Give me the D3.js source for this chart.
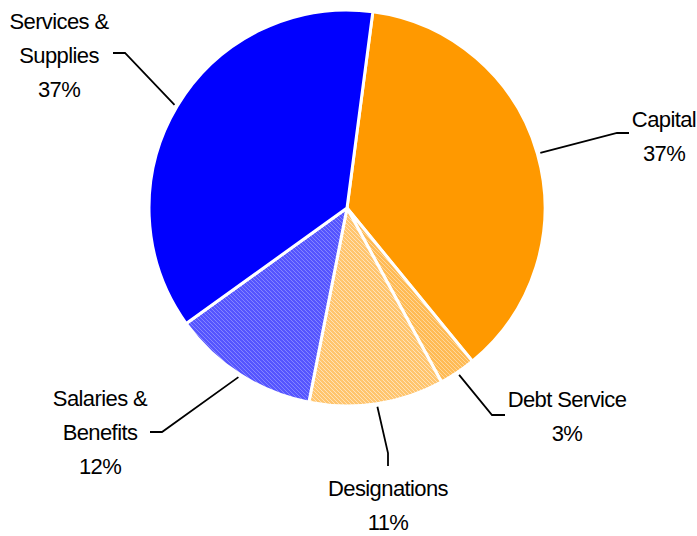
<!DOCTYPE html>
<html>
<head>
<meta charset="utf-8">
<script src="https://cdn.jsdelivr.net/npm/d3@7/dist/d3.min.js"></script>
<style>
  html, body { margin: 0; padding: 0; background: #ffffff; }
  svg { display: block; }
  text { font-family: "Liberation Sans", Arial, sans-serif; font-size: 22px; letter-spacing: -0.6px; fill: #000; }
</style>
</head>
<body>
<svg id="chart" width="697" height="536"></svg>
<script>
// Budget shares, clockwise from just past 12 o'clock
const categories = ["Capital", "Debt Service", "Designations", "Salaries & Benefits", "Services & Supplies"];
const labelLines = [["Capital"], ["Debt Service"], ["Designations"], ["Salaries &", "Benefits"], ["Services &", "Supplies"]];
const values = [37, 3, 11, 12, 37];

// Label placement: elbow of the leader, end of the leader, text centre and first baseline
const labelLayout = [
  { elbow: [617, 133], end: [629, 133], tx: 664, ty: 127 },
  { elbow: [492, 415], end: [505, 415], tx: 567, ty: 407 },
  { elbow: [388, 453], end: [388, 466], tx: 388, ty: 496 },
  { elbow: [162, 432], end: [150, 432], tx: 100, ty: 406 },
  { elbow: [125, 53],  end: [113, 53],  tx: 59,  ty: 29 }
];

const width = 697, height = 536;
const cx = 347, cy = 208, radius = 198;
const lineGap = 34;

const svg = d3.select("#chart");
const defs = svg.append("defs");

// Fine dither fills for the lighter slices
function dither(id, a, b) {
  const p = defs.append("pattern").attr("id", id)
    .attr("width", 4).attr("height", 4).attr("patternUnits", "userSpaceOnUse");
  p.append("rect").attr("width", 4).attr("height", 4).attr("fill", a);
  p.append("rect").attr("x", 0).attr("y", 0).attr("width", 1).attr("height", 1).attr("fill", b);
  p.append("rect").attr("x", 2).attr("y", 2).attr("width", 1).attr("height", 1).attr("fill", b);
  p.append("rect").attr("x", 1).attr("y", 1).attr("width", 1).attr("height", 1).attr("fill", b);
  p.append("rect").attr("x", 3).attr("y", 3).attr("width", 1).attr("height", 1).attr("fill", b);
}
dither("fillSal", "#5555ff", "#8585ff");
dither("fillDes", "#ffc56e", "#ffe2b8");
dither("fillDebt", "#ffbb55", "#ffd79a");

const fills = ["#ff9900", "url(#fillDebt)", "url(#fillDes)", "url(#fillSal)", "#0000ff"];

const start = 7.5 * Math.PI / 180;
const pie = d3.pie().sort(null).value(d => d).startAngle(start).endAngle(start + 2 * Math.PI);
const arcs = pie(values);

const arc = d3.arc().innerRadius(0).outerRadius(radius);

const g = svg.append("g").attr("transform", `translate(${cx},${cy})`);
g.selectAll("path.slice")
  .data(arcs)
  .join("path")
  .attr("class", "slice")
  .attr("d", arc)
  .attr("fill", (d, i) => fills[i])
  .attr("stroke", "#ffffff")
  .attr("stroke-width", 3)
  .attr("stroke-linejoin", "round");

// Leader lines from the slice edge at its mid angle, then the labels
arcs.forEach((d, i) => {
  const mid = (d.startAngle + d.endAngle) / 2;
  const sx = cx + (radius + 3) * Math.sin(mid);
  const sy = cy - (radius + 3) * Math.cos(mid);
  const L = labelLayout[i];
  svg.append("polyline")
    .attr("points", [[sx, sy], L.elbow, L.end].map(p => p.join(",")).join(" "))
    .attr("fill", "none")
    .attr("stroke", "#000")
    .attr("stroke-width", 1.8);

  const lines = labelLines[i].concat([values[i] + "%"]);
  const t = svg.append("text").attr("text-anchor", "middle");
  lines.forEach((s, k) => {
    t.append("tspan").attr("x", L.tx).attr("y", L.ty + k * lineGap).text(s);
  });
});
</script>
</body>
</html>
